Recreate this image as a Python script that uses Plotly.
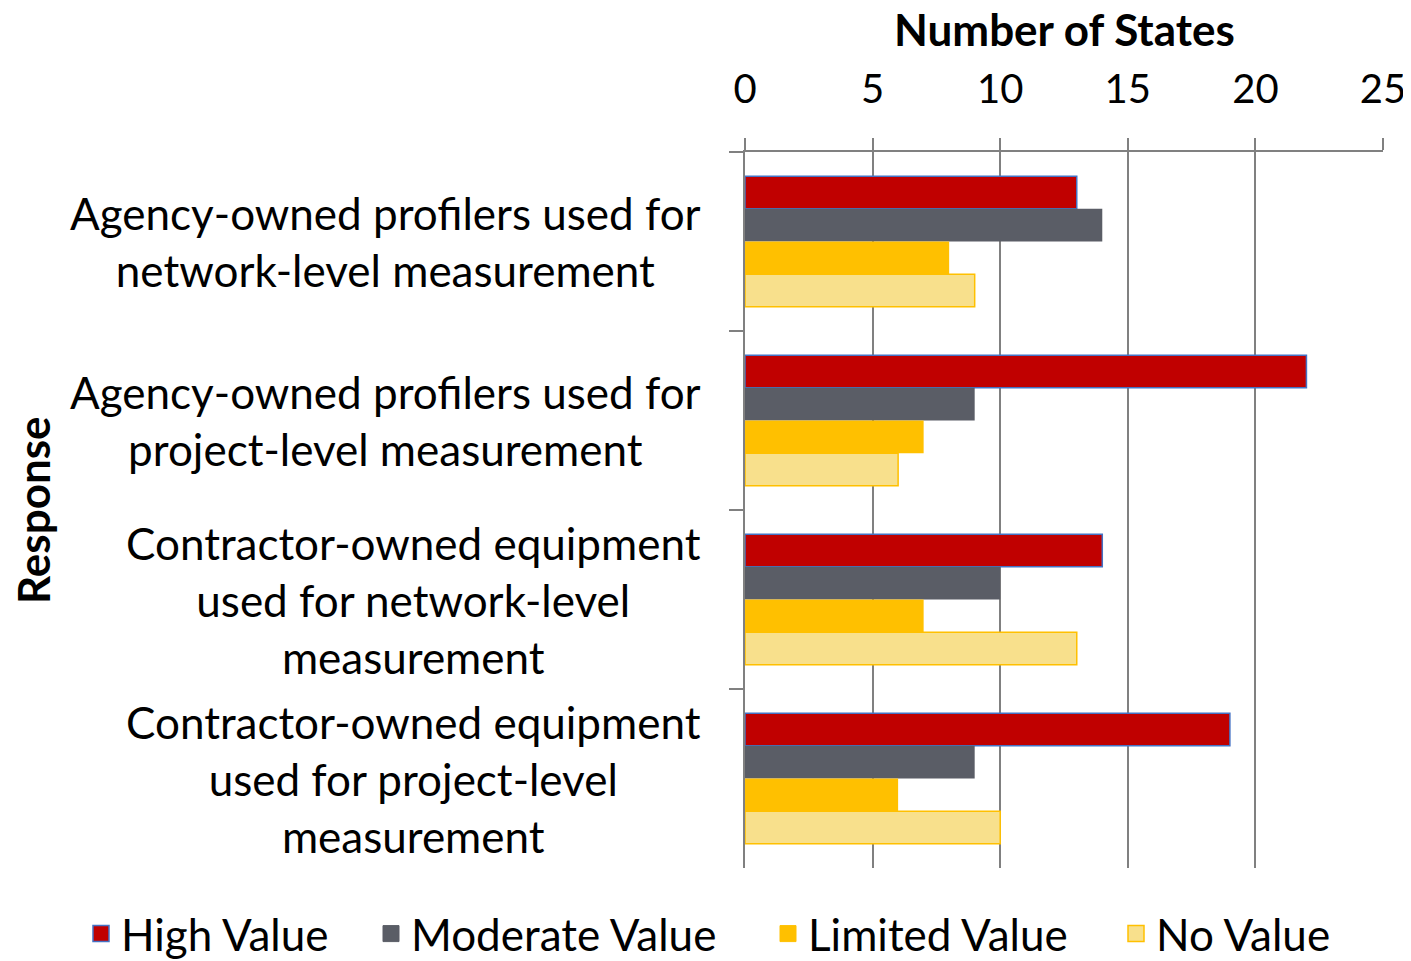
import plotly.graph_objects as go

categories = [
    "Agency-owned profilers used for<br>network-level measurement",
    "Agency-owned profilers used for<br>project-level measurement",
    "Contractor-owned equipment<br>used for network-level<br>measurement",
    "Contractor-owned equipment<br>used for project-level<br>measurement",
]
series_names = ["High Value", "Moderate Value", "Limited Value", "No Value"]
high_value = [13, 22, 14, 19]
moderate_value = [14, 9, 10, 9]
limited_value = [8, 7, 7, 6]
no_value = [9, 6, 13, 10]
x_ticks = [0, 5, 10, 15, 20, 25]

series_values = [high_value, moderate_value, limited_value, no_value]
fills = ["#C00000", "#5A5D66", "#FFC000", "#F8E08C"]
outlines = ["#4472C4", "#5A5D66", "#FFC000", "#FFC000"]
outline_w = [1.5, 0, 0, 1.5]
legend_ids = ["legend", "legend2", "legend3", "legend4"]

FONT = "Lato"
OFF = 8  # page body margin offset
W, H = 1411 - OFF, 961 - OFF
PLOT_H = 716
legend_x_px = [74 - OFF + 7, 365 - OFF + 6, 762 - OFF + 6, 1110 - OFF + 6]

fig = go.Figure()
for name, vals, fc, lc, lw, lid in zip(series_names, series_values, fills, outlines, outline_w, legend_ids):
    fig.add_trace(go.Bar(
        y=categories, x=vals, name=name, orientation="h",
        marker=dict(color=fc, line=dict(color=lc, width=lw)),
        showlegend=False, legendgroup=name,
    ))
    # legend entry (larger square symbol)
    fig.add_trace(go.Scatter(
        x=[None], y=[None], mode="markers", name=name, legend=lid, legendgroup=name,
        marker=dict(symbol="square", size=16, color=fc,
                    line=dict(color=lc, width=max(lw, 1))),
        hoverinfo="skip",
    ))

for cat in categories:
    fig.add_annotation(
        x=-42 / 638, xref="paper", y=cat, yref="y",
        text=cat, showarrow=False, xanchor="right", yanchor="middle",
        align="center", font=dict(family=FONT, size=44, color="#000000"),
    )

fig.add_annotation(
    x=(33 - 745) / 638, xref="paper", y=0.5, yref="paper", text="<b>Response</b>",
    showarrow=False, textangle=-90, xanchor="center", yanchor="middle",
    borderpad=0,
    font=dict(family=FONT, size=44, color="#000000"),
)

fig.add_annotation(
    x=0.5, xref="paper", y=1 + (152 - 29) / PLOT_H, yref="paper",
    text="<b>Number of States</b>", showarrow=False,
    xanchor="center", yanchor="middle",
    font=dict(family=FONT, size=44, color="#000000"),
)

legend_common = dict(
    orientation="h", xref="container", yref="container",
    xanchor="left", y=1 - (934 - OFF) / H, yanchor="middle",
    font=dict(family=FONT, size=44, color="#000000"),
    itemwidth=30, bgcolor="rgba(0,0,0,0)", itemsizing="trace",
)
legend_layout = {}
for lid, px in zip(legend_ids, legend_x_px):
    legend_layout[lid] = dict(legend_common, x=px / W)

fig.update_layout(
    width=W, height=H,
    margin=dict(l=745 - OFF, r=28, t=152 - OFF, b=93, autoexpand=False),
    paper_bgcolor="white", plot_bgcolor="white",
    barmode="group", bargap=0.27, bargroupgap=0,
    font=dict(family=FONT, color="#000000"),
    showlegend=True,
    xaxis=dict(
        side="top", range=[0, 25], tickvals=x_ticks,
        showline=True, linecolor="#808080", linewidth=2,
        showgrid=True, gridcolor="#808080", gridwidth=2,
        ticks="outside", ticklen=12, tickcolor="#808080", tickwidth=2,
        tickfont=dict(family=FONT, size=40, color="#000000"),
        ticklabelstandoff=19,
        zeroline=False, fixedrange=True, automargin=False,
    ),
    yaxis=dict(
        type="category", autorange="reversed", tickson="boundaries",
        showline=True, linecolor="#808080", linewidth=2,
        showgrid=False, ticks="outside", ticklen=14, tickcolor="#808080", tickwidth=2,
        showticklabels=False, zeroline=False, automargin=False,
    ),
    **legend_layout,
)

fig.write_html("out.html")
